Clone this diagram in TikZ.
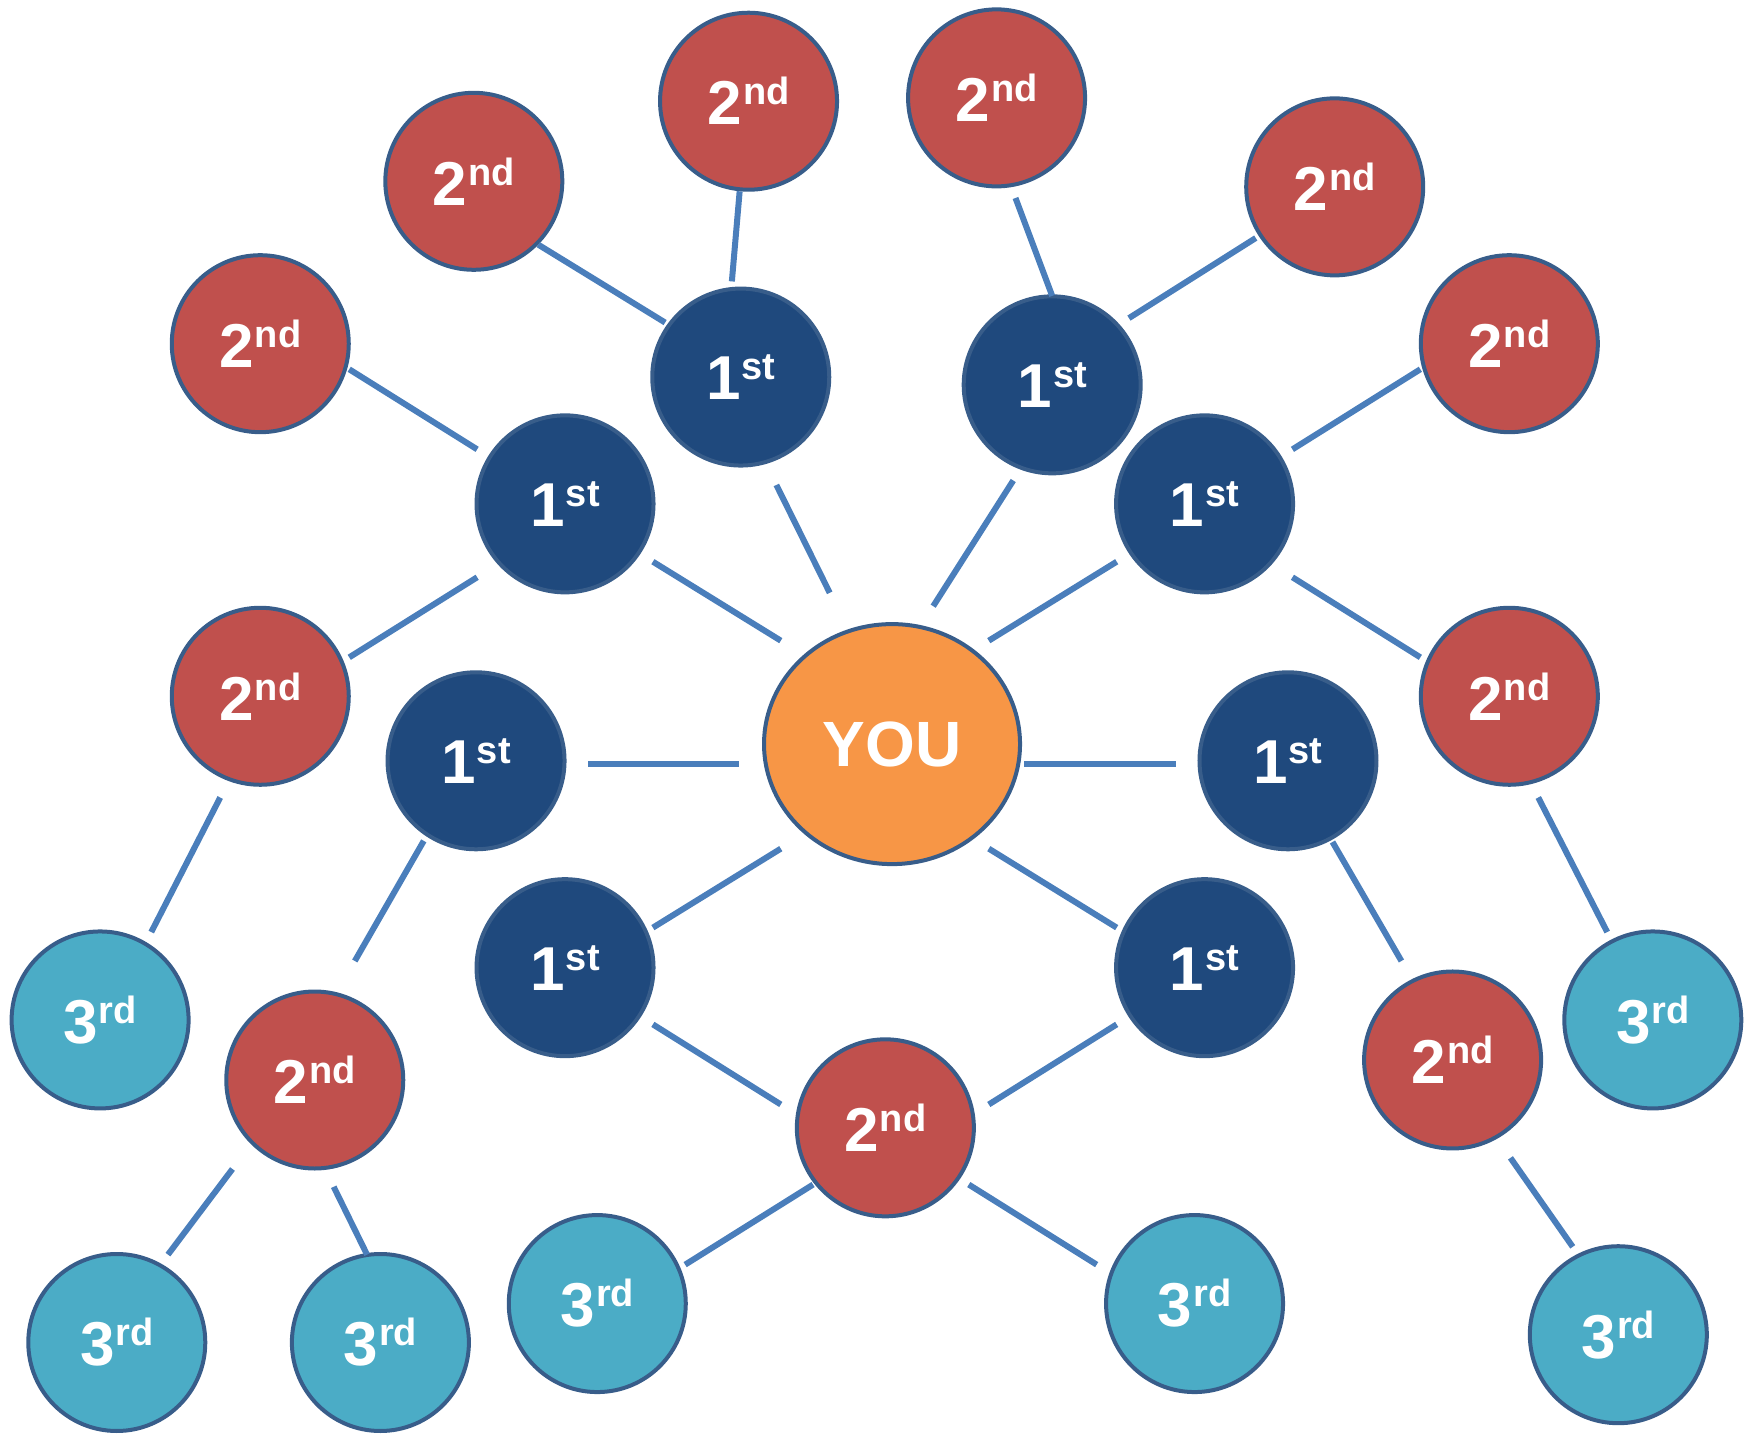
\documentclass[tikz,border=0pt]{standalone}
\usepackage{fontspec}
\setmainfont{Liberation Sans}
\usetikzlibrary{shapes.geometric}
\definecolor{redfill}{HTML}{C0504D}
\definecolor{navyfill}{HTML}{1F497D}
\definecolor{cyanfill}{HTML}{4BACC6}
\definecolor{orangefill}{HTML}{F79646}
\definecolor{outl}{HTML}{385D8A}
\definecolor{connc}{HTML}{4A7EBB}
\newcommand\ordlbl[2]{{\fontsize{62}{62}\selectfont #1}\hspace{1pt}\raisebox{20pt}{\fontsize{38}{38}\selectfont #2}}
\tikzset{
  bubble/.style={circle, draw=outl, line width=4pt, minimum size=177pt, inner sep=0pt, text=white, font=\bfseries},
  firstc/.style={bubble, fill=navyfill},
  secondc/.style={bubble, fill=redfill},
  thirdc/.style={bubble, fill=cyanfill},
  youc/.style={ellipse, draw=outl, line width=4pt, minimum width=256pt, minimum height=240pt, inner sep=0pt, fill=orangefill, text=white, font=\bfseries\fontsize{64}{64}\selectfont},
  conn/.style={draw=connc, line width=6pt, line cap=butt}
}
\begin{document}
\begin{tikzpicture}[x=1.11224pt, y=-1.11224pt]
\useasboundingbox (0,0) rectangle (1568,1289);
% nodes
\node[youc] (you) at (802,669) {YOU};
\node[firstc] (a1) at (508,453) {\ordlbl{1}{st}};
\node[firstc] (b1) at (666,339) {\ordlbl{1}{st}};
\node[firstc] (c1) at (946,346) {\ordlbl{1}{st}};
\node[firstc] (d1) at (1083,453) {\ordlbl{1}{st}};
\node[firstc] (e1) at (428,684) {\ordlbl{1}{st}};
\node[firstc] (f1) at (1158,684) {\ordlbl{1}{st}};
\node[firstc] (g1) at (508,870) {\ordlbl{1}{st}};
\node[firstc] (h1) at (1083,870) {\ordlbl{1}{st}};
\node[secondc] (s1) at (426,163) {\ordlbl{2}{nd}};
\node[secondc] (s2) at (673,91) {\ordlbl{2}{nd}};
\node[secondc] (s3) at (896,88) {\ordlbl{2}{nd}};
\node[secondc] (s4) at (1200,168) {\ordlbl{2}{nd}};
\node[secondc] (s5) at (234,309) {\ordlbl{2}{nd}};
\node[secondc] (s6) at (1357,309) {\ordlbl{2}{nd}};
\node[secondc] (s7) at (234,626) {\ordlbl{2}{nd}};
\node[secondc] (s8) at (1357,626) {\ordlbl{2}{nd}};
\node[secondc] (s9) at (283,971) {\ordlbl{2}{nd}};
\node[secondc] (s10) at (796,1014) {\ordlbl{2}{nd}};
\node[secondc] (s11) at (1306,953) {\ordlbl{2}{nd}};
\node[thirdc] (t1) at (90,917) {\ordlbl{3}{rd}};
\node[thirdc] (t2) at (1486,917) {\ordlbl{3}{rd}};
\node[thirdc] (t3) at (105,1207) {\ordlbl{3}{rd}};
\node[thirdc] (t4) at (342,1207) {\ordlbl{3}{rd}};
\node[thirdc] (t5) at (537,1172) {\ordlbl{3}{rd}};
\node[thirdc] (t6) at (1074,1172) {\ordlbl{3}{rd}};
\node[thirdc] (t7) at (1455,1200) {\ordlbl{3}{rd}};
% connectors (with gaps)
\path[conn] ([shift={(58,57)}]s1.center) -- ([shift={(-68,-49)}]b1.center);
\path[conn] ([shift={(-8,81)}]s2.center) -- ([shift={(-8,-86)}]b1.center);
\path[conn] ([shift={(17,90)}]s3.center) -- ([shift={(0,-80)}]c1.center);
\path[conn] ([shift={(-71,46)}]s4.center) -- ([shift={(69,-60)}]c1.center);
\path[conn] ([shift={(80,23)}]s5.center) -- ([shift={(-79,-49)}]a1.center);
\path[conn] ([shift={(-80,23)}]s6.center) -- ([shift={(79,-49)}]d1.center);
\path[conn] ([shift={(79,52)}]a1.center) -- ([shift={(-100,-93)}]you.center);
\path[conn] ([shift={(32,97)}]b1.center) -- ([shift={(-56,-136)}]you.center);
\path[conn] ([shift={(-35,86)}]c1.center) -- ([shift={(37,-124)}]you.center);
\path[conn] ([shift={(-79,52)}]d1.center) -- ([shift={(87,-93)}]you.center);
\path[conn] ([shift={(-79,66)}]a1.center) -- ([shift={(80,-35)}]s7.center);
\path[conn] ([shift={(79,66)}]d1.center) -- ([shift={(-80,-35)}]s8.center);
\path[conn] ([shift={(101,3)}]e1.center) -- ([shift={(-138,18)}]you.center);
\path[conn] ([shift={(119,18)}]you.center) -- ([shift={(-101,3)}]f1.center);
\path[conn] ([shift={(79,-36)}]g1.center) -- ([shift={(-100,94)}]you.center);
\path[conn] ([shift={(87,94)}]you.center) -- ([shift={(-79,-36)}]h1.center);
\path[conn] ([shift={(-36,91)}]s7.center) -- ([shift={(46,-79)}]t1.center);
\path[conn] ([shift={(-47,72)}]e1.center) -- ([shift={(36,-107)}]s9.center);
\path[conn] ([shift={(26,91)}]s8.center) -- ([shift={(-41,-79)}]t2.center);
\path[conn] ([shift={(40,73)}]f1.center) -- ([shift={(-46,-89)}]s11.center);
\path[conn] ([shift={(79,51)}]g1.center) -- ([shift={(-94,-21)}]s10.center);
\path[conn] ([shift={(-79,51)}]h1.center) -- ([shift={(93,-21)}]s10.center);
\path[conn] ([shift={(-74,80)}]s9.center) -- ([shift={(46,-79)}]t3.center);
\path[conn] ([shift={(17,96)}]s9.center) -- ([shift={(-12,-79)}]t4.center);
\path[conn] ([shift={(-65,51)}]s10.center) -- ([shift={(79,-35)}]t5.center);
\path[conn] ([shift={(75,51)}]s10.center) -- ([shift={(-88,-35)}]t6.center);
\path[conn] ([shift={(52,88)}]s11.center) -- ([shift={(-41,-79)}]t7.center);
\end{tikzpicture}
\end{document}
